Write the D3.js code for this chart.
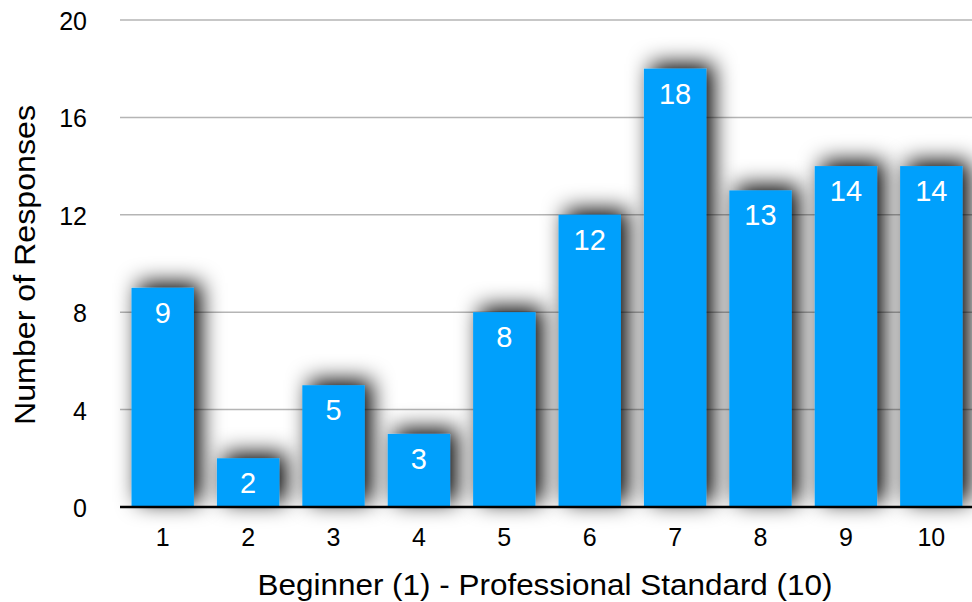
<!DOCTYPE html>
<html><head><meta charset="utf-8">
<script src="https://cdn.jsdelivr.net/npm/d3@7/dist/d3.min.js"></script>
<style>body{margin:0;background:#fff;}svg{display:block;font-family:"Liberation Sans",Arial,Helvetica,sans-serif;}</style>
</head><body>
<svg id="chart" width="972" height="602"></svg>
<script>
const categories = ["1","2","3","4","5","6","7","8","9","10"];
const values = [9,2,5,3,8,12,18,13,14,14];
const yTicks = [0,4,8,12,16,20];
const xTitle = "Beginner (1) - Professional Standard (10)";
const yTitle = "Number of Responses";

(function(){
const svg = d3.select("#chart");
const mLeft = 120, mRight = 974, mTop = 20, mBottom = 507;
const x = d3.scaleBand().domain(categories).range([mLeft, mRight]).paddingInner(0.27).paddingOuter(0.135);
const y = d3.scaleLinear().domain([0,20]).range([mBottom, mTop]);

const defs = svg.append("defs");
const f = defs.append("filter").attr("id","sh").attr("x","-80%").attr("y","-80%").attr("width","260%").attr("height","260%");
f.append("feDropShadow").attr("dx",7).attr("dy",-5).attr("stdDeviation",11).attr("flood-color","#000").attr("flood-opacity",1);

svg.append("g").selectAll("line").data(yTicks.filter(d=>d>0)).join("line")
  .attr("x1",mLeft).attr("x2",972).attr("y1",d=>y(d)).attr("y2",d=>y(d))
  .attr("stroke","#b5b5b5").attr("stroke-width",1.5);

svg.append("g").selectAll("text").data(yTicks).join("text")
  .attr("x",87).attr("y",d=>y(d)+10).attr("text-anchor","end")
  .attr("font-size",25).attr("fill","#000").text(d=>d);

svg.append("g").selectAll("rect").data(values).join("rect")
  .attr("x",(d,i)=>x(categories[i])).attr("width",x.bandwidth())
  .attr("y",d=>y(d)).attr("height",d=>y(0)-y(d))
  .attr("fill","#02a0fc").attr("filter","url(#sh)");

svg.append("g").selectAll("text").data(values).join("text")
  .attr("x",(d,i)=>x(categories[i])+x.bandwidth()/2).attr("y",d=>y(d)+35)
  .attr("text-anchor","middle").attr("font-size",29).attr("fill","#fff").text(d=>d);

svg.append("line").attr("x1",mLeft).attr("x2",972).attr("y1",y(0)).attr("y2",y(0))
  .attr("stroke","#000").attr("stroke-width",2.5);

svg.append("g").selectAll("text").data(categories).join("text")
  .attr("x",d=>x(d)+x.bandwidth()/2).attr("y",546).attr("text-anchor","middle")
  .attr("font-size",25).attr("fill","#000").text(d=>d);

svg.append("text").attr("x",545).attr("y",595).attr("text-anchor","middle")
  .attr("font-size",30).attr("fill","#000")
  .attr("textLength",575).attr("lengthAdjust","spacingAndGlyphs").text(xTitle);
svg.append("text").attr("transform","translate(35,265) rotate(-90)").attr("text-anchor","middle")
  .attr("font-size",30).attr("fill","#000")
  .attr("textLength",320).attr("lengthAdjust","spacingAndGlyphs").text(yTitle);
})();
</script>
</body></html>
